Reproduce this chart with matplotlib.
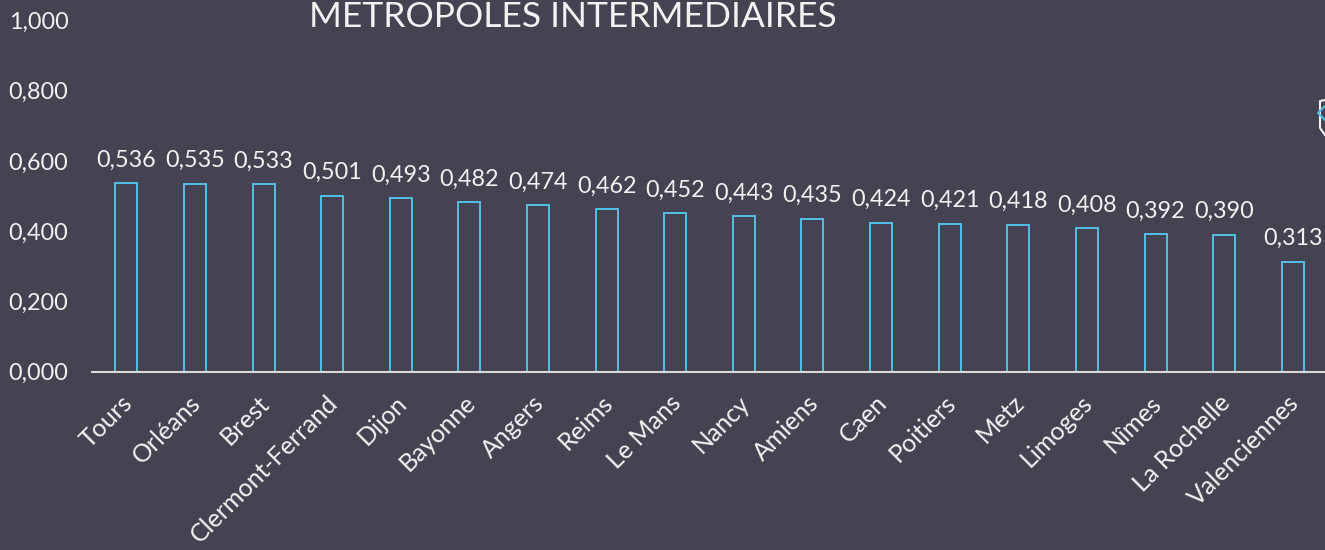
import matplotlib
matplotlib.use('Agg')
import matplotlib.pyplot as plt
from matplotlib.lines import Line2D
from matplotlib.transforms import ScaledTranslation

# valeurs
villes = ['Tours', 'Orléans', 'Brest', 'Clermont-Ferrand', 'Dijon', 'Bayonne',
          'Angers', 'Reims', 'Le Mans', 'Nancy', 'Amiens', 'Caen', 'Poitiers',
          'Metz', 'Limoges', 'Nîmes', 'La Rochelle', 'Valenciennes']
valeurs = [0.536, 0.535, 0.533, 0.501, 0.493, 0.482, 0.474, 0.462, 0.452,
           0.443, 0.435, 0.424, 0.421, 0.418, 0.408, 0.392, 0.390, 0.313]
graduations = [0.0, 0.2, 0.4, 0.6, 0.8, 1.0]

FOND = '#454352'
TEXTE = '#f2f2f2'
BLEU = '#53bfe8'
W, H = 1325, 550

plt.rcParams['font.family'] = ['Lato', 'DejaVu Sans']

fig = plt.figure(figsize=(W / 100, H / 100), dpi=100, facecolor=FOND)
ax = fig.add_axes([92 / W, (H - 371.5) / H, (W - 92) / W, 351 / H], facecolor=FOND)

ax.bar(range(len(villes)), valeurs, width=0.32, facecolor='none',
       edgecolor=BLEU, linewidth=1.4, zorder=2)

for i, v in enumerate(valeurs):
    ax.annotate(f'{v:.3f}'.replace('.', ','), (i, v), xytext=(0, 9),
                textcoords='offset points', ha='center', va='bottom',
                color=TEXTE, fontsize=16.8, clip_on=False)

ax.set_xlim(-0.5, 17.47)
ax.set_ylim(0, 1)
ax.set_yticks(graduations)
ax.set_yticklabels([f'{g:.3f}'.replace('.', ',') for g in graduations],
                   color=TEXTE, fontsize=16.8)
ax.set_xticks(range(len(villes)))
ax.set_xticklabels(villes, rotation=45, ha='right', rotation_mode='anchor',
                   color=TEXTE, fontsize=18)
ax.tick_params(axis='both', length=0)
ax.tick_params(axis='y', pad=17)
ax.tick_params(axis='x', pad=14)
# les étiquettes sont un peu à gauche des barres
decalage = ScaledTranslation(-6 / 100, 0, fig.dpi_scale_trans)
for lab in ax.get_xticklabels():
    lab.set_transform(lab.get_transform() + decalage)
for s in ['top', 'left', 'right']:
    ax.spines[s].set_visible(False)
ax.spines['bottom'].set_color('#d9d9d9')
ax.spines['bottom'].set_linewidth(1.5)

fig.text(573 / W, 1 - 27 / H, 'MÉTROPOLES INTERMÉDIAIRES', ha='center', va='baseline',
         color=TEXTE, fontsize=25.5)

# pictogramme coupé au bord droit
fig.add_artist(Line2D([1325 / W, 1320 / W, 1320 / W, 1325 / W],
                      [1 - 100 / H, 1 - 101 / H, 1 - 128 / H, 1 - 135 / H],
                      color=TEXTE, linewidth=1.5))
fig.add_artist(Line2D([1325 / W, 1318 / W, 1325 / W],
                      [1 - 106 / H, 1 - 113 / H, 1 - 120 / H],
                      color=BLEU, linewidth=1.5))

fig.savefig('out.png', dpi=100, facecolor=FOND)
